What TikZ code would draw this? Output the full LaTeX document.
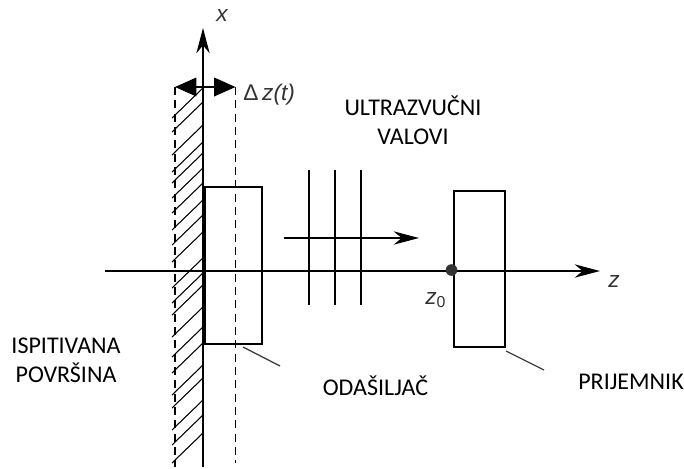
\documentclass[tikz,border=0pt]{standalone}
\usepackage{fontspec}
\setmainfont{Carlito}
\newfontfamily\axisfont{Liberation Sans}
\usetikzlibrary{arrows.meta}
\tikzset{
  x=0.75pt,y=-0.75pt,
  axisline/.style={line width=1pt,black},
  axisarrow/.style={axisline,-{Stealth[length=19pt,width=10pt,inset=6pt]}},
  dimarrow/.style={line width=1pt,{Triangle[length=16pt,width=14pt]}-{Triangle[length=16pt,width=14pt]}},
  dashline/.style={line width=1.2pt,dash pattern=on 6pt off 4pt},
  hatchline/.style={line width=0.8pt},
  leader/.style={line width=1pt,black!75},
  caption/.style={font=\fontsize{18pt}{22pt}\selectfont,align=center,inner sep=0pt},
  symbol/.style={font=\axisfont\itshape\fontsize{17pt}{19pt}\selectfont,inner sep=0pt,text=black!80},
}
\begin{document}
\begin{tikzpicture}
\useasboundingbox (0,0) rectangle (684,468);
% hatching
\foreach \y in {88,102,125,142,153,168,183,200,215,232,258,273,285,307,327,343,365,378,400,415,433}
  \draw[hatchline] (203,\y) -- (172,\y+30);
% frames
\coordinate (xbot) at (203,467);
\coordinate (xtop) at (203,28);
\coordinate (dl) at (175,87);
\coordinate (dlb) at (175,467);
\coordinate (dr) at (235.5,87);
\coordinate (drb) at (235.5,463);
\coordinate (zl) at (105,271);
\coordinate (zr) at (600,271);
\draw[dashline] (dl) -- (dlb);
\draw[dashline] (dr) -- (drb);
\draw[axisarrow] (xbot) -- (xtop);
\draw[axisarrow] (zl) -- (zr);
\draw[dimarrow] (dl) -- (dr);
\draw[line width=2.2pt] (204,187) -- (204,344);
% transmitter and receiver
\draw[line width=1pt] (205,187) rectangle (262,344);
\draw[line width=1pt] (454,191) rectangle (505,347);
\coordinate (t1) at (243,347);
\coordinate (t2) at (280,366);
\coordinate (r1) at (506,351);
\coordinate (r2) at (544,370);
\draw[leader] (t1) -- (t2);
\draw[leader] (r1) -- (r2);
% waves
\foreach \x/\n in {309/a,335/b,361/c}{
  \coordinate (w\n1) at (\x,170);
  \coordinate (w\n2) at (\x,305);
  \draw[line width=1pt] (w\n1) -- (w\n2);
}
\coordinate (wl) at (284,238);
\coordinate (wr) at (419,238);
\draw[axisarrow] (wl) -- (wr);
\fill[black!80] (451.5,270) circle (5.8);
% labels
\node[symbol] (lx) at (222,16) {x};
\node[symbol,anchor=base west] (ldz) at (243,100) {{\upshape Δ}\,z(t)};
\node[symbol] (lz) at (614,282) {z};
\node[symbol,anchor=base west] (lz0) at (425,304) {z\textsubscript{\normalfont\axisfont 0}};
\node[caption] (l1) at (413,120) {ULTRAZVUČNI\\VALOVI};
\node[caption] (l2) at (66,360.5) {ISPITIVANA\\POVRŠINA};
\node[caption] (l3) at (375.5,386) {ODAŠILJAČ};
\node[caption] (l4) at (631,382) {PRIJEMNIK};
\end{tikzpicture}
\end{document}
